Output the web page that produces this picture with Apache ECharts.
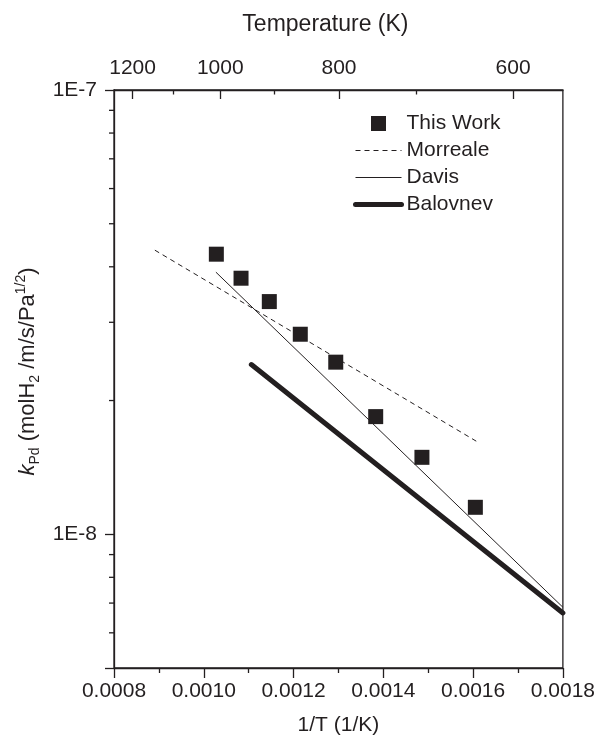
<!DOCTYPE html>
<html><head><meta charset="utf-8">
<script src="https://cdn.jsdelivr.net/npm/echarts@6/dist/echarts.min.js"></script>
<style>html,body{margin:0;padding:0;background:#fff}#c{width:598px;height:741px}</style>
</head><body><div id="c"></div>
<script>
// ---- data ----
const invT      = [0.001028, 0.001083, 0.001146, 0.001215, 0.001294, 0.001383, 0.001486, 0.001605];
const thisWork  = [4.27e-8, 3.77e-8, 3.34e-8, 2.82e-8, 2.44e-8, 1.84e-8, 1.49e-8, 1.15e-8];
const morrealeX = [0.000891, 0.001607];
const morrealeY = [4.36e-8, 1.62e-8];
const davisX    = [0.001027, 0.0018];
const davisY    = [3.89e-8, 6.85e-9];
const balovnevX = [0.001106, 0.0018];
const balovnevY = [2.41e-8, 6.65e-9];
const tempMajor = [1200, 1000, 800, 600];
const tempMinor = [1100, 900, 700];
const tempEdges = [1250, 556.5];
const yMinorTicks = [6e-9, 7e-9, 8e-9, 9e-9, 2e-8, 3e-8, 4e-8, 5e-8, 6e-8, 7e-8, 8e-8, 9e-8];

const FONT = 'Liberation Sans, Arial, Helvetica, sans-serif';
const INK = '#231f20';
const NONE = 'rgba(0,0,0,0)';
const u = T => 1 / Math.sqrt(T);   // top axis scale
const pairs = (xs, ys) => xs.map((x, i) => [x, ys[i]]);

const chart = echarts.init(document.getElementById('c'), null, {renderer: 'canvas'});
const axLine = {onZero: false, lineStyle: {color: INK, width: 1.3}};
const txt = {fontFamily: FONT, fontSize: 21, color: INK};

chart.setOption({
  animation: false,
  grid: {left: 114, right: 35, top: 90, bottom: 69, show: true, borderColor: INK, borderWidth: 1.3, backgroundColor: 'transparent'},
  legend: {
    orient: 'vertical', left: 353, top: 113, padding: 0,
    itemWidth: 46, itemHeight: 15, itemGap: 6, selectedMode: false,
    textStyle: txt,
    data: [
      {name: 'This Work', icon: 'path://M0,0M46,15M15.5,0h15v15h-15z'},
      {name: 'Morreale', lineStyle: {width: 1, type: [5, 4]}},
      {name: 'Davis', lineStyle: {width: 1}},
      {name: 'Balovnev', lineStyle: {width: 5, cap: 'round'}}
    ]
  },
  xAxis: [
    {
      type: 'value', position: 'bottom', min: 0.0008, max: 0.0018, interval: 0.0002,
      name: '1/T (1/K)', nameLocation: 'middle', nameGap: 47, nameTextStyle: txt,
      axisLine: axLine,
      axisTick: {length: 10, lineStyle: {color: INK, width: 1.3}},
      minorTick: {show: true, splitNumber: 2, length: 5, lineStyle: {color: INK, width: 1.3}},
      axisLabel: Object.assign({margin: 13, formatter: v => v.toFixed(4)}, txt),
      splitLine: {show: false}
    },
    {
      type: 'value', position: 'top', min: u(tempEdges[0]), max: u(tempEdges[1]),
      name: 'Temperature (K)', nameLocation: 'middle', nameGap: 54,
      nameTextStyle: {fontFamily: FONT, fontSize: 23, color: INK, padding: [0, 26, 0, 0]},
      axisLine: axLine,
      axisTick: {inside: true, length: 9, customValues: tempMajor.map(u), lineStyle: {color: INK, width: 1.3}},
      axisLabel: Object.assign({margin: 11, customValues: tempMajor.map(u), formatter: v => String(Math.round(1 / (v * v)))}, txt),
      splitLine: {show: false}
    },
    {
      type: 'value', position: 'top', min: u(tempEdges[0]), max: u(tempEdges[1]),
      axisLine: {show: false, onZero: false},
      axisTick: {inside: true, length: 4.5, customValues: tempMinor.map(u), lineStyle: {color: INK, width: 1.3}},
      axisLabel: {show: false},
      splitLine: {show: false}
    }
  ],
  yAxis: {
    type: 'log', logBase: 10, min: 5e-9, max: 1e-7,
    name: '{i|k}{sub|Pd} (molH{sub|2} /m/s/Pa{sup|1/2})',
    nameLocation: 'middle', nameGap: 72,
    nameTextStyle: {fontFamily: FONT, fontSize: 22, color: INK, lineHeight: 28, padding: [0, 0, 0, 15], rich: {
      i: {fontFamily: FONT, fontSize: 22, fontStyle: 'italic', color: INK, lineHeight: 28},
      sub: {fontFamily: FONT, fontSize: 14, color: INK, lineHeight: 13, verticalAlign: 'bottom'},
      sup: {fontFamily: FONT, fontSize: 14, color: INK, lineHeight: 13, verticalAlign: 'top'}
    }},
    axisLine: axLine,
    axisTick: {length: 9, lineStyle: {color: INK, width: 1.3}},
    minorTick: {show: false},
    axisLabel: Object.assign({margin: 17, formatter: v => {
      const e = Math.log10(v);
      return Math.abs(e - Math.round(e)) < 1e-6 ? '1E' + Math.round(e) : '';
    }}, txt),
    splitLine: {show: false}
  },
  series: [
    {name: 'This Work', type: 'scatter', xAxisIndex: 0, yAxisIndex: 0, symbol: 'rect', symbolSize: 15,
     itemStyle: {color: INK, opacity: 1}, data: pairs(invT, thisWork), z: 4},
    {name: 'Morreale', type: 'line', xAxisIndex: 0, yAxisIndex: 0, symbol: 'none', showSymbol: false,
     lineStyle: {color: INK, width: 1, type: [5, 4]}, itemStyle: {color: NONE}, data: pairs(morrealeX, morrealeY)},
    {name: 'Davis', type: 'line', xAxisIndex: 0, yAxisIndex: 0, symbol: 'none', showSymbol: false,
     lineStyle: {color: INK, width: 1}, itemStyle: {color: NONE}, data: pairs(davisX, davisY)},
    {name: 'Balovnev', type: 'line', xAxisIndex: 0, yAxisIndex: 0, symbol: 'none', showSymbol: false,
     lineStyle: {color: INK, width: 5, cap: 'round'}, itemStyle: {color: NONE}, data: pairs(balovnevX, balovnevY)},
    {name: 'yMinorTicks', type: 'scatter', xAxisIndex: 0, yAxisIndex: 0, silent: true, clip: false,
     symbol: 'rect', symbolSize: [5, 1.3], symbolOffset: [-2.5, 0], itemStyle: {color: INK, opacity: 1},
     emphasis: {disabled: true}, data: yMinorTicks.map(v => [0.0008, v]), z: 5}
  ]
});
</script>
</body></html>
